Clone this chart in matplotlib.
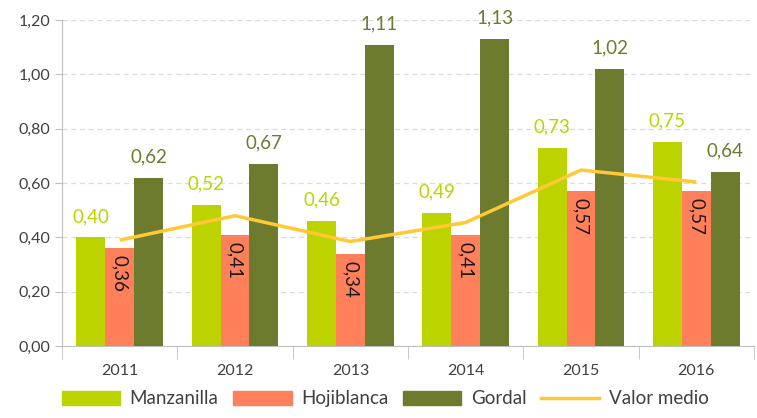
import numpy as np
import matplotlib
matplotlib.use("Agg")
import matplotlib.pyplot as plt
from matplotlib.patches import Patch
from matplotlib.lines import Line2D

plt.rcParams["font.family"] = ["Lato", "DejaVu Sans"]

years = ["2011", "2012", "2013", "2014", "2015", "2016"]
manzanilla = [0.40, 0.52, 0.46, 0.49, 0.73, 0.75]
hojiblanca = [0.36, 0.41, 0.34, 0.41, 0.57, 0.57]
gordal = [0.62, 0.67, 1.11, 1.13, 1.02, 0.64]
valor_medio = [0.39, 0.48, 0.385, 0.455, 0.648, 0.604]

C_MAN = "#BDD300"
C_HOJ = "#FF805A"
C_GOR = "#6D7B2F"
C_MED = "#FFC936"
C_TXT = "#404040"


def fmt(v):
    return f"{v:.2f}".replace(".", ",")


fig = plt.figure(figsize=(7.57, 4.18), dpi=100)
ax = fig.add_axes([0.082, 0.172, 0.914, 0.78])

x = np.arange(len(years))
w = 0.25
ax.bar(x - w, manzanilla, w, color=C_MAN, zorder=3)
ax.bar(x, hojiblanca, w, color=C_HOJ, zorder=3)
ax.bar(x + w, gordal, w, color=C_GOR, zorder=3)
ax.plot(x, valor_medio, color=C_MED, lw=2.5, zorder=4, solid_capstyle="butt")

for xi, v in zip(x, manzanilla):
    ax.annotate(fmt(v), (xi - w, v), xytext=(0, 9), textcoords="offset points",
                ha="center", va="bottom", color=C_MAN, fontsize=13.5)
for xi, v in zip(x, gordal):
    ax.annotate(fmt(v), (xi + w, v), xytext=(0, 9), textcoords="offset points",
                ha="center", va="bottom", color=C_GOR, fontsize=13.5)
for xi, v in zip(x, hojiblanca):
    ax.annotate(fmt(v), (xi, v), xytext=(0, -5), textcoords="offset points",
                ha="center", va="top", rotation=270, color="#1a1a1a", fontsize=13.5,
                zorder=5)

ax.set_xlim(-0.5, len(years) - 0.5)
ax.set_ylim(0, 1.2)
ax.set_yticks(np.arange(0, 1.21, 0.2))
ax.set_yticklabels([fmt(t) for t in np.arange(0, 1.21, 0.2)])
ax.set_xticks(x)
ax.set_xticklabels(years)
ax.set_xticks(np.arange(-0.5, len(years), 1), minor=True)
ax.tick_params(axis="x", which="major", length=0, pad=13, labelsize=11.5, labelcolor=C_TXT)
ax.tick_params(axis="x", which="minor", length=9, color="#BFBFBF")
ax.tick_params(axis="y", length=5, color="#BFBFBF", labelsize=11.5, labelcolor=C_TXT)

ax.grid(axis="y", color="#D5DEDE", ls=(0, (4, 3)), lw=0.9, zorder=0)
for s in ["top", "right"]:
    ax.spines[s].set_visible(False)
for s in ["left", "bottom"]:
    ax.spines[s].set_color("#BFBFBF")

handles = [Patch(color=C_MAN), Patch(color=C_HOJ), Patch(color=C_GOR),
           Line2D([], [], color=C_MED, lw=2.5)]
labels = ["Manzanilla", "Hojiblanca", "Gordal", "Valor medio"]
fig.legend(handles, labels, loc="lower center", bbox_to_anchor=(0.509, -0.015), ncol=4,
           frameon=False, fontsize=13.5, handlelength=3.1, handleheight=0.8,
           columnspacing=0.8, handletextpad=0.5, labelcolor=C_TXT)

fig.savefig("out.png", dpi=100)
